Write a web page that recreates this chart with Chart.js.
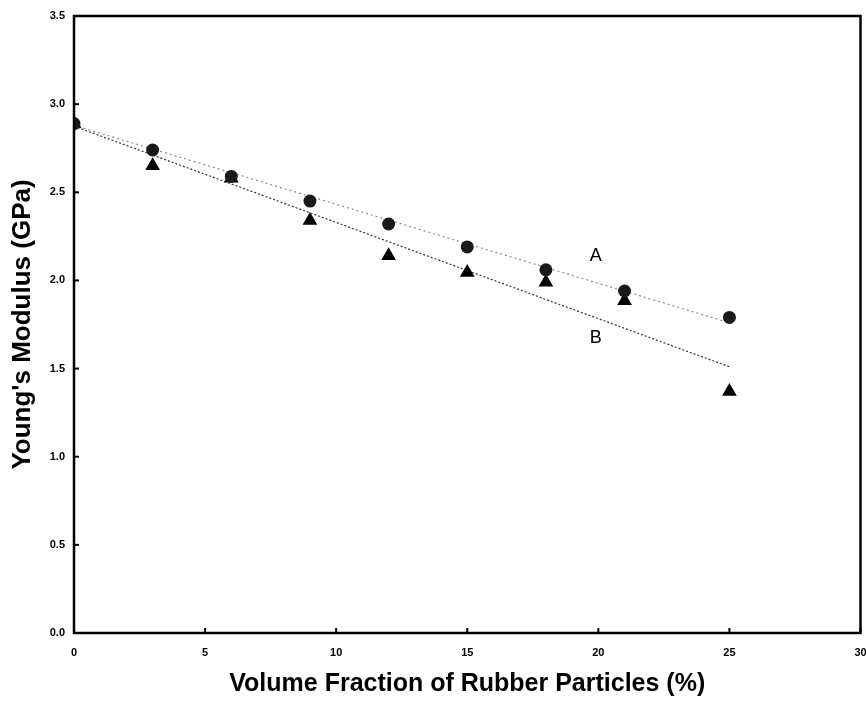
<!DOCTYPE html>
<html><head><meta charset="utf-8">
<script src="https://cdn.jsdelivr.net/npm/chart.js@4/dist/chart.umd.min.js"></script>
<style>html,body{margin:0;padding:0;background:#fff;overflow:hidden}#wrap{width:866px;height:702px;overflow:hidden}</style>
</head><body><div id="wrap"><canvas id="c" width="869" height="702"></canvas></div>
<script>
const volumeFraction = [0, 3, 6, 9, 12, 15, 18, 21, 25];
const modulusA = [2.89, 2.74, 2.59, 2.45, 2.32, 2.19, 2.06, 1.94, 1.79];
const modulusB = [2.89, 2.65, 2.58, 2.34, 2.14, 2.045, 1.99, 1.885, 1.37];
const fitX = [0, 25];
const fitA = [2.88, 1.76];
const fitB = [2.875, 1.51];
const curveLabels = ["A", "B"];
const curveLabelX = [19.9, 19.9];
const curveLabelY = [2.14, 1.675];
const xTicks = [0, 5, 10, 15, 20, 25, 30];
const yTicks = [0.0, 0.5, 1.0, 1.5, 2.0, 2.5, 3.0, 3.5];

const pts = (xs, ys) => xs.map((x, i) => ({x, y: ys[i]}));
const FONT = "'Liberation Sans', Arial, sans-serif";

const framePlugin = {
  id: 'frame',
  afterDraw(chart) {
    const {ctx, chartArea: a, scales} = chart;
    ctx.save();
    ctx.strokeStyle = '#000';
    ctx.lineWidth = 2.5;
    ctx.strokeRect(a.left, a.top, a.right - a.left, a.bottom - a.top);
    ctx.lineWidth = 2;
    xTicks.forEach(v => {
      const px = scales.x.getPixelForValue(v);
      ctx.beginPath(); ctx.moveTo(px, a.bottom); ctx.lineTo(px, a.bottom - 5); ctx.stroke();
    });
    yTicks.forEach(v => {
      const py = scales.y.getPixelForValue(v);
      ctx.beginPath(); ctx.moveTo(a.left, py); ctx.lineTo(a.left + 5, py); ctx.stroke();
    });
    ctx.fillStyle = '#000';
    ctx.font = "18px " + FONT;
    ctx.textAlign = 'center'; ctx.textBaseline = 'middle';
    curveLabels.forEach((t, i) => {
      ctx.fillText(t, scales.x.getPixelForValue(curveLabelX[i]), scales.y.getPixelForValue(curveLabelY[i]));
    });
    ctx.restore();
  }
};

new Chart(document.getElementById('c'), {
  type: 'scatter',
  data: {
    datasets: [
      {label: 'Fit A', data: pts(fitX, fitA), showLine: true, borderColor: '#8a8a8a', borderWidth: 1.2, borderDash: [2, 3], pointRadius: 0, fill: false, order: 3},
      {label: 'Fit B', data: pts(fitX, fitB), showLine: true, borderColor: '#333', borderWidth: 1.2, borderDash: [2, 2], pointRadius: 0, fill: false, order: 3},
      {label: 'B', data: pts(volumeFraction, modulusB), pointStyle: 'triangle', pointRadius: 8.5, backgroundColor: '#000', borderColor: '#000', borderWidth: 0, order: 2},
      {label: 'A', data: pts(volumeFraction, modulusA), pointStyle: 'circle', pointRadius: 6.5, backgroundColor: '#1a1a1a', borderColor: '#000', borderWidth: 0, order: 1}
    ]
  },
  options: {
    responsive: false,
    animation: false,
    devicePixelRatio: 1,
    layout: {padding: {top: 16, right: 0, left: 0, bottom: 0}},
    plugins: {legend: {display: false}, tooltip: {enabled: false}},
    scales: {
      x: {
        type: 'linear', min: 0, max: 30,
        afterFit(s) { s.height = 69; s.paddingLeft = 0; s.paddingRight = 0; },
        afterBuildTicks(s) { s.ticks = xTicks.map(v => ({value: v})); },
        grid: {display: false, drawTicks: false},
        border: {display: false},
        ticks: {padding: 13, color: '#000', font: {family: FONT, size: 11, weight: 'bold'}, maxRotation: 0},
        title: {display: true, text: 'Volume Fraction of Rubber Particles (%)', color: '#000', font: {family: FONT, size: 25, weight: 'bold'}, padding: {top: 4, bottom: 3}}
      },
      y: {
        type: 'linear', min: 0, max: 3.5,
        afterFit(s) { s.width = 74; s.paddingTop = 0; s.paddingBottom = 0; },
        afterBuildTicks(s) { s.ticks = yTicks.map(v => ({value: v})); },
        grid: {display: false, drawTicks: false},
        border: {display: false},
        ticks: {padding: 9, color: '#000', font: {family: FONT, size: 11, weight: 'bold'}, callback: v => Number(v).toFixed(1)},
        title: {display: true, text: "Young's Modulus (GPa)", color: '#000', font: {family: FONT, size: 26, weight: 'bold'}, padding: {top: 7, bottom: 4}}
      }
    }
  },
  plugins: [framePlugin]
});
</script></body></html>
